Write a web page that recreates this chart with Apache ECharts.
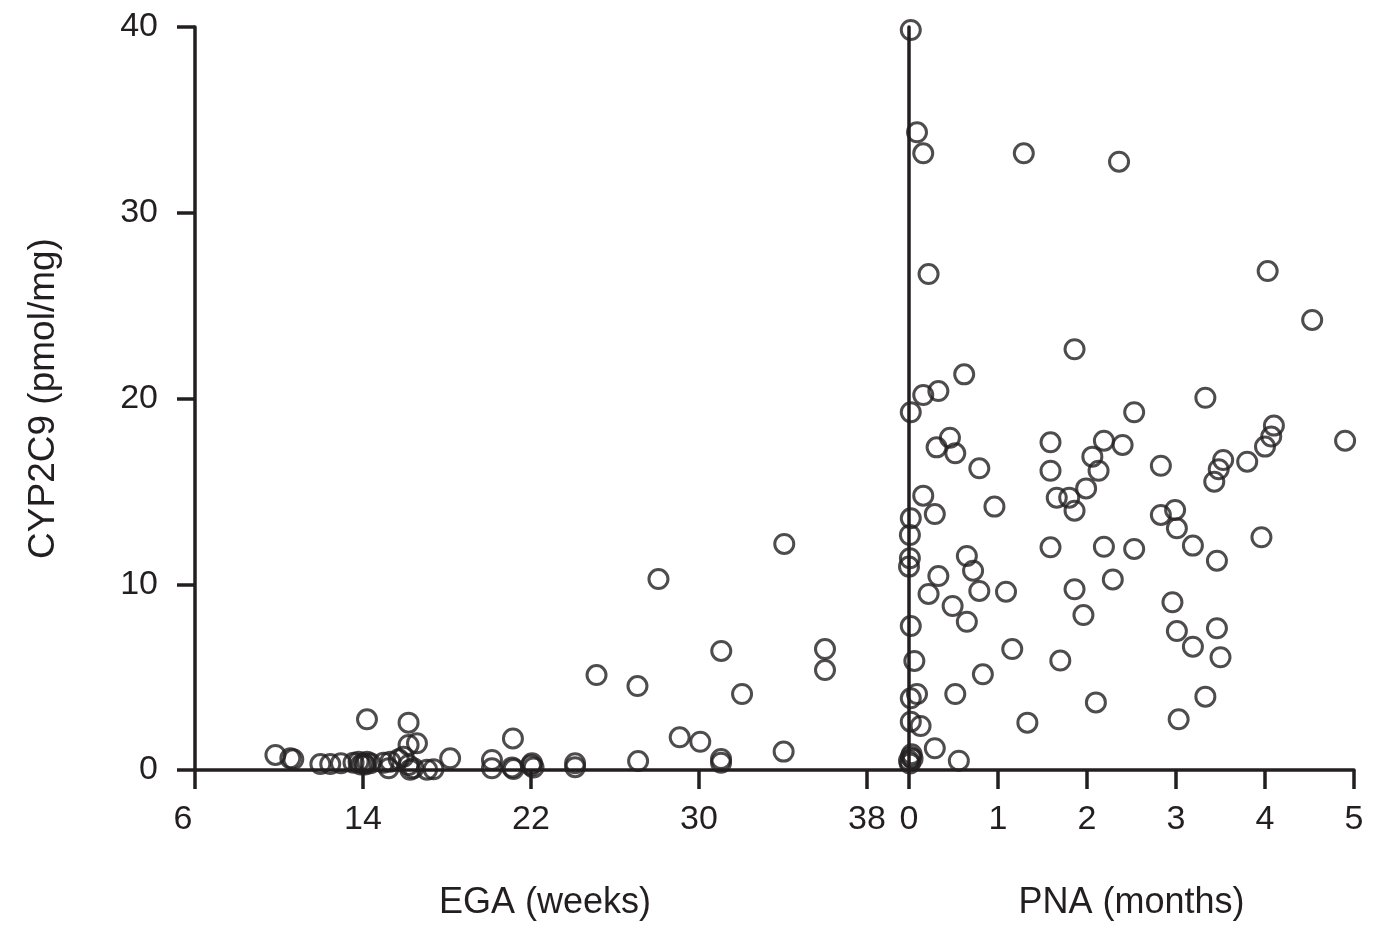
<!DOCTYPE html>
<html>
<head>
<meta charset="utf-8">
<script src="https://cdn.jsdelivr.net/npm/echarts@6/dist/echarts.min.js"></script>
<style>html,body{margin:0;padding:0;background:#fff;}#c{width:1381px;height:930px;}</style>
</head>
<body>
<div id="c"></div>
<script>
// EGA panel: [weeks, CYP2C9 pmol/mg]
const egaPoints = [
  [9.83,0.81],[10.54,0.63],[10.68,0.58],[11.97,0.32],[12.44,0.32],[12.95,0.36],
  [13.55,0.39],[13.79,0.45],[13.9,0.3],[14.03,0.36],[14.1,0.3],[14.19,0.45],[14.35,0.36],
  [14.19,2.73],[14.98,0.39],[15.22,0.09],[15.30,0.45],[15.70,0.58],[15.93,0.72],
  [16.17,2.55],[16.17,1.35],[16.57,1.44],[16.17,0.27],[16.25,0.02],[16.40,0.10],
  [17.05,0.02],[17.36,0.04],[18.15,0.63],[20.14,0.54],[20.14,0.09],[21.14,1.70],
  [21.10,0.14],[21.17,0.05],[22.05,0.36],[22.12,0.14],[22.00,0.25],[24.10,0.36],
  [24.10,0.15],[25.12,5.11],[27.07,4.52],[27.10,0.48],[28.07,10.28],[29.08,1.76],
  [30.06,1.52],[31.05,0.59],[31.05,0.39],[31.06,6.41],[32.05,4.09],[34.03,0.99],
  [34.06,12.17],[36.00,6.51],[36.00,5.38]
];
// PNA panel: [months, CYP2C9 pmol/mg]
const pnaPoints = [
  [0.02,39.84],[0.09,34.33],[0.16,33.20],[1.29,33.20],[2.36,32.75],[0.22,26.70],
  [4.03,26.86],[4.53,24.23],[1.86,22.65],[0.62,21.30],[0.16,20.19],[0.33,20.40],
  [0.02,19.26],[2.53,19.26],[3.33,20.04],[0.46,17.89],[0.31,17.37],[0.52,17.05],
  [1.59,17.64],[2.19,17.73],[2.40,17.50],[4.10,18.54],[4.07,17.95],[4.00,17.41],
  [4.90,17.73],[2.06,16.87],[2.13,16.11],[0.79,16.24],[1.59,16.11],[2.83,16.38],
  [3.53,16.69],[3.48,16.19],[3.43,15.52],[3.80,16.60],[1.99,15.16],[1.66,14.66],
  [1.80,14.66],[1.86,13.96],[0.16,14.77],[0.29,13.78],[0.96,14.18],[0.02,13.55],
  [0.01,12.65],[2.83,13.73],[2.99,14.00],[3.01,13.01],[3.19,12.08],[3.46,11.27],
  [3.96,12.53],[0.01,11.40],[0.00,10.95],[0.65,11.52],[0.72,10.73],[0.33,10.44],
  [0.22,9.48],[0.79,9.64],[1.09,9.60],[0.49,8.83],[0.65,7.98],[1.59,11.99],
  [2.19,12.02],[2.53,11.90],[2.29,10.26],[1.86,9.73],[1.96,8.34],[2.96,9.03],
  [3.01,7.48],[3.19,6.64],[3.46,7.63],[3.50,6.07],[0.02,7.75],[0.06,5.87],
  [1.16,6.51],[1.70,5.89],[0.83,5.15],[0.52,4.09],[0.09,4.09],[0.02,3.86],
  [2.10,3.64],[3.33,3.95],[1.33,2.55],[0.02,2.60],[0.13,2.37],[3.03,2.73],
  [0.29,1.17],[0.56,0.50],[0.00,0.50],[0.02,0.70],[0.04,0.60],[0.01,0.35],[0.03,0.85]
];
const egaTicks = [6, 14, 22, 30, 38];
const pnaTicks = [0, 1, 2, 3, 4, 5];
const yTicks = [0, 10, 20, 30, 40];

const INK = '#231f20';
const FONT = '"Liberation Sans", Arial, Helvetica, sans-serif';
const chart = echarts.init(document.getElementById('c'), null, {renderer: 'canvas'});

const axisLineStyle = {show: true, onZero: false, lineStyle: {color: INK, width: 3.5}};
const tickStyle = {show: true, length: 19, lineStyle: {color: INK, width: 3.5}};
const labelBase = {color: INK, fontSize: 34, fontFamily: FONT};

const symbolStyle = {color: 'rgba(0,0,0,0)', borderColor: INK, borderWidth: 3};

chart.setOption({
  animation: false,
  backgroundColor: '#ffffff',
  grid: [
    {left: 195, top: 27, width: 714, height: 743},
    {left: 909, top: 27, width: 445, height: 743}
  ],
  xAxis: [
    {
      gridIndex: 0, type: 'value', min: 6, max: 40, interval: 8,
      name: 'EGA (weeks)', nameLocation: 'middle', nameGap: 115,
      nameTextStyle: {color: INK, fontSize: 36, fontFamily: FONT, padding: [0, 14, 0, 0]},
      axisLine: axisLineStyle,
      axisTick: Object.assign({customValues: egaTicks}, tickStyle),
      axisLabel: Object.assign({
        customValues: egaTicks, margin: 33,
        formatter: v => v === 6 ? '{a|6}' : String(v),
        rich: {a: {color: INK, fontSize: 34, fontFamily: FONT, padding: [0, 24, 0, 0]}}
      }, labelBase),
      splitLine: {show: false}
    },
    {
      gridIndex: 1, type: 'value', min: 0, max: 5, interval: 1,
      name: 'PNA (months)', nameLocation: 'middle', nameGap: 115,
      nameTextStyle: {color: INK, fontSize: 36, fontFamily: FONT},
      axisLine: axisLineStyle,
      axisTick: Object.assign({customValues: pnaTicks}, tickStyle),
      axisLabel: Object.assign({customValues: pnaTicks, margin: 33}, labelBase),
      splitLine: {show: false}
    }
  ],
  yAxis: [
    {
      gridIndex: 0, type: 'value', min: 0, max: 40, interval: 10,
      name: 'CYP2C9 (pmol/mg)', nameLocation: 'middle', nameGap: 133,
      nameTextStyle: {color: INK, fontSize: 37, fontFamily: FONT},
      axisLine: axisLineStyle,
      axisTick: Object.assign({customValues: yTicks}, tickStyle, {length: 18}),
      axisLabel: Object.assign({customValues: yTicks, margin: 37}, labelBase),
      splitLine: {show: false}
    },
    {
      gridIndex: 1, type: 'value', min: 0, max: 40, interval: 10,
      axisLine: axisLineStyle,
      axisTick: {show: false},
      axisLabel: {show: false},
      splitLine: {show: false}
    }
  ],
  series: [
    {
      type: 'scatter', xAxisIndex: 0, yAxisIndex: 0, data: egaPoints,
      symbol: 'circle', symbolSize: 19, clip: false, itemStyle: symbolStyle, z: 3
    },
    {
      type: 'scatter', xAxisIndex: 1, yAxisIndex: 1, data: pnaPoints,
      symbol: 'circle', symbolSize: 19, clip: false, itemStyle: symbolStyle, z: 3
    }
  ]
});
</script>
</body>
</html>
